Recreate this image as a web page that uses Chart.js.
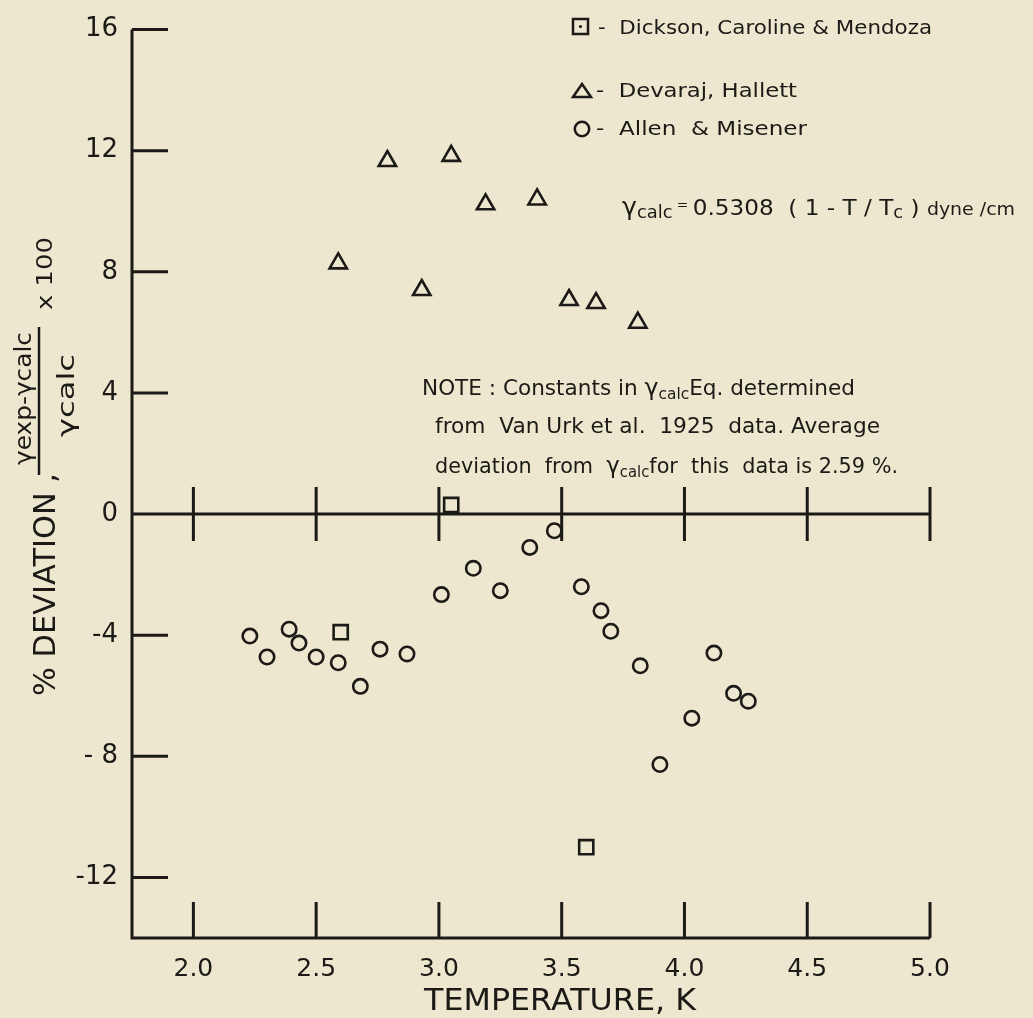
<!DOCTYPE html>
<html>
<head>
<meta charset="utf-8">
<script src="https://cdn.jsdelivr.net/npm/chart.js@4/dist/chart.umd.min.js"></script>
<style>
  html, body { margin: 0; padding: 0; background: #ece7ce; }
  canvas { display: block; }
</style>
</head>
<body>
<canvas id="chart" width="1033" height="1018"></canvas>
<script>
// Dickson, Caroline & Mendoza (squares)
const dcmTemp = [3.05, 2.60, 3.60];
const dcmDev = [0.30, -3.90, -11.0];

// Devaraj, Hallett (triangles)
const dhTemp = [2.59, 2.79, 2.93, 3.05, 3.19, 3.40, 3.53, 3.64, 3.81];
const dhDev = [8.28, 11.66, 7.40, 11.83, 10.23, 10.39, 7.07, 6.97, 6.32];

// Allen & Misener (circles)
const amTemp = [2.23, 2.30, 2.39, 2.43, 2.50, 2.59, 2.68, 2.76, 2.87, 3.01, 3.14,
                3.25, 3.37, 3.47, 3.58, 3.66, 3.70, 3.82, 3.90, 4.03, 4.12, 4.20, 4.26];
const amDev = [-4.03, -4.72, -3.80, -4.26, -4.72, -4.91, -5.69, -4.46, -4.62, -2.66, -1.79,
               -2.53, -1.10, -0.55, -2.40, -3.19, -3.87, -5.01, -8.27, -6.74, -4.59, -5.92, -6.18];

const xTicks = [2.0, 2.5, 3.0, 3.5, 4.0, 4.5, 5.0];
const xTickText = ['2.0', '2.5', '3.0', '3.5', '4.0', '4.5', '5.0'];
const yTicks = [16, 12, 8, 4, 0, -4, -8, -12];
const yTickText = ['16', '12', '8', '4', '0', '-4', '- 8', '-12'];

const FONT = '"DejaVu Sans", sans-serif';
const ink = '#1b1a17';
const paper = '#ece7ce';

function pts(xs, ys) {
  return xs.map((x, i) => ({ x: x, y: ys[i] }));
}

// draws a line of mixed-size text, stretched to a given length
function richLine(ctx, segs, x, y, len, rot) {
  ctx.save();
  ctx.translate(x, y);
  if (rot) ctx.rotate(rot);
  let w = 0;
  segs.forEach(s => { ctx.font = s[1] + 'px ' + FONT; w += ctx.measureText(s[0]).width; });
  ctx.scale(len / w, 1);
  ctx.fillStyle = ink;
  ctx.textBaseline = 'alphabetic';
  ctx.textAlign = 'left';
  let cx = 0;
  segs.forEach(s => {
    ctx.font = s[1] + 'px ' + FONT;
    ctx.fillText(s[0], cx, s[2] || 0);
    cx += ctx.measureText(s[0]).width;
  });
  ctx.restore();
}

const paperPlugin = {
  id: 'paper',
  beforeDraw(chart) {
    const ctx = chart.ctx;
    ctx.save();
    ctx.fillStyle = paper;
    ctx.fillRect(0, 0, chart.width, chart.height);
    ctx.restore();
  },
  beforeDatasetsDraw(chart) {
    const ctx = chart.ctx;
    const xs = chart.scales.x, ys = chart.scales.y;
    const left = xs.left, right = xs.getPixelForValue(5.0);
    const bottom = ys.bottom, top = ys.getPixelForValue(16);
    const zero = ys.getPixelForValue(0);
    ctx.save();
    ctx.strokeStyle = ink;
    ctx.lineWidth = 3;
    ctx.lineCap = 'butt';
    ctx.beginPath();
    // left axis and bottom axis
    ctx.moveTo(left, top);
    ctx.lineTo(left, bottom);
    ctx.lineTo(right, bottom);
    // zero line
    ctx.moveTo(left, zero);
    ctx.lineTo(right, zero);
    // y ticks pointing inward
    yTicks.forEach(v => {
      const py = ys.getPixelForValue(v);
      ctx.moveTo(left, py);
      ctx.lineTo(left + 36, py);
    });
    // x ticks on bottom axis and crossing the zero line
    xTicks.forEach(v => {
      const px = xs.getPixelForValue(v);
      ctx.moveTo(px, bottom);
      ctx.lineTo(px, bottom - 36);
      ctx.moveTo(px, zero - 27);
      ctx.lineTo(px, zero + 27);
    });
    ctx.stroke();
    ctx.restore();
  },
  afterDraw(chart) {
    const ctx = chart.ctx;
    ctx.save();
    ctx.strokeStyle = ink;
    ctx.fillStyle = ink;
    ctx.lineWidth = 2.5;

    // legend markers
    ctx.strokeRect(573, 19, 15, 15);
    ctx.beginPath(); ctx.arc(580.5, 26.5, 1.6, 0, Math.PI * 2); ctx.fill();
    ctx.beginPath();
    ctx.moveTo(582, 84); ctx.lineTo(591, 97); ctx.lineTo(573, 97); ctx.closePath();
    ctx.stroke();
    ctx.beginPath(); ctx.arc(582, 129, 7.2, 0, Math.PI * 2); ctx.stroke();

    richLine(ctx, [['-  Dickson, Caroline & Mendoza', 20]], 598, 34, 334);
    richLine(ctx, [['-  Devaraj, Hallett', 20]], 596, 97, 201);
    richLine(ctx, [['-  Allen  & Misener', 20]], 596, 135, 211);

    // equation
    richLine(ctx, [['γ', 24], ['calc', 17, 3], [' = ', 13, -6], ['0.5308  ( 1 - T / T', 22],
                   ['c', 17, 3], [' ) ', 22], ['dyne /cm', 18]], 622, 215, 393);

    // note
    richLine(ctx, [['NOTE : Constants in ', 21], ['γ', 23], ['calc', 15, 4], ['Eq. determined', 21]],
             422, 395, 433);
    richLine(ctx, [['from  Van Urk et al.  1925  data. Average', 21]], 435, 433, 445);
    richLine(ctx, [['deviation  from  ', 21], ['γ', 23], ['calc', 15, 4], ['for  this  data is 2.59 %.', 21]],
             435, 473, 463);

    // x axis title
    richLine(ctx, [['TEMPERATURE, K', 30]], 424, 1010, 272);

    // y axis title, rotated
    const up = -Math.PI / 2;
    richLine(ctx, [['% DEVIATION ,', 30]], 55, 696, 223, up);
    richLine(ctx, [['γexp-γcalc', 23]], 31, 465, 133, up);
    richLine(ctx, [['γcalc', 23]], 74, 437, 83, up);
    richLine(ctx, [['x 100', 22]], 52, 310, 73, up);
    ctx.lineWidth = 2.5;
    ctx.beginPath();
    ctx.moveTo(39, 475); ctx.lineTo(39, 327);
    ctx.stroke();
    ctx.restore();
  }
};

const markerBase = {
  showLine: false,
  pointBackgroundColor: 'rgba(0,0,0,0)',
  pointBorderColor: ink,
  pointBorderWidth: 2.6,
  pointHoverRadius: 0
};

new Chart(document.getElementById('chart'), {
  type: 'scatter',
  data: {
    datasets: [
      Object.assign({ label: 'Dickson, Caroline & Mendoza', data: pts(dcmTemp, dcmDev),
        pointStyle: 'rect', pointRadius: 10 }, markerBase),
      Object.assign({ label: 'Devaraj, Hallett', data: pts(dhTemp, dhDev),
        pointStyle: 'triangle', pointRadius: 10 }, markerBase),
      Object.assign({ label: 'Allen & Misener', data: pts(amTemp, amDev),
        pointStyle: 'circle', pointRadius: 7.2 }, markerBase)
    ]
  },
  options: {
    responsive: false,
    animation: false,
    devicePixelRatio: 1,
    layout: { padding: { top: 17, right: 103, bottom: 0, left: 0 } },
    plugins: { legend: { display: false }, tooltip: { enabled: false } },
    scales: {
      x: {
        type: 'linear',
        min: 1.75,
        max: 5.0,
        afterBuildTicks: s => { s.ticks = xTicks.map(v => ({ value: v })); },
        afterFit: s => { s.height = 80; },
        grid: { display: false, drawTicks: false },
        border: { display: false },
        ticks: {
          padding: 16,
          maxRotation: 0,
          color: ink,
          font: { family: FONT, size: 25 },
          callback: (v, i) => xTickText[i]
        }
      },
      y: {
        type: 'linear',
        min: -14,
        max: 16,
        afterBuildTicks: s => { s.ticks = yTicks.map(v => ({ value: v })); },
        afterFit: s => { s.width = 132; },
        grid: { display: false, drawTicks: false },
        border: { display: false },
        ticks: {
          padding: 14,
          color: ink,
          font: { family: FONT, size: 26 },
          callback: (v, i) => yTickText[i]
        }
      }
    }
  },
  plugins: [paperPlugin]
});
</script>
</body>
</html>
